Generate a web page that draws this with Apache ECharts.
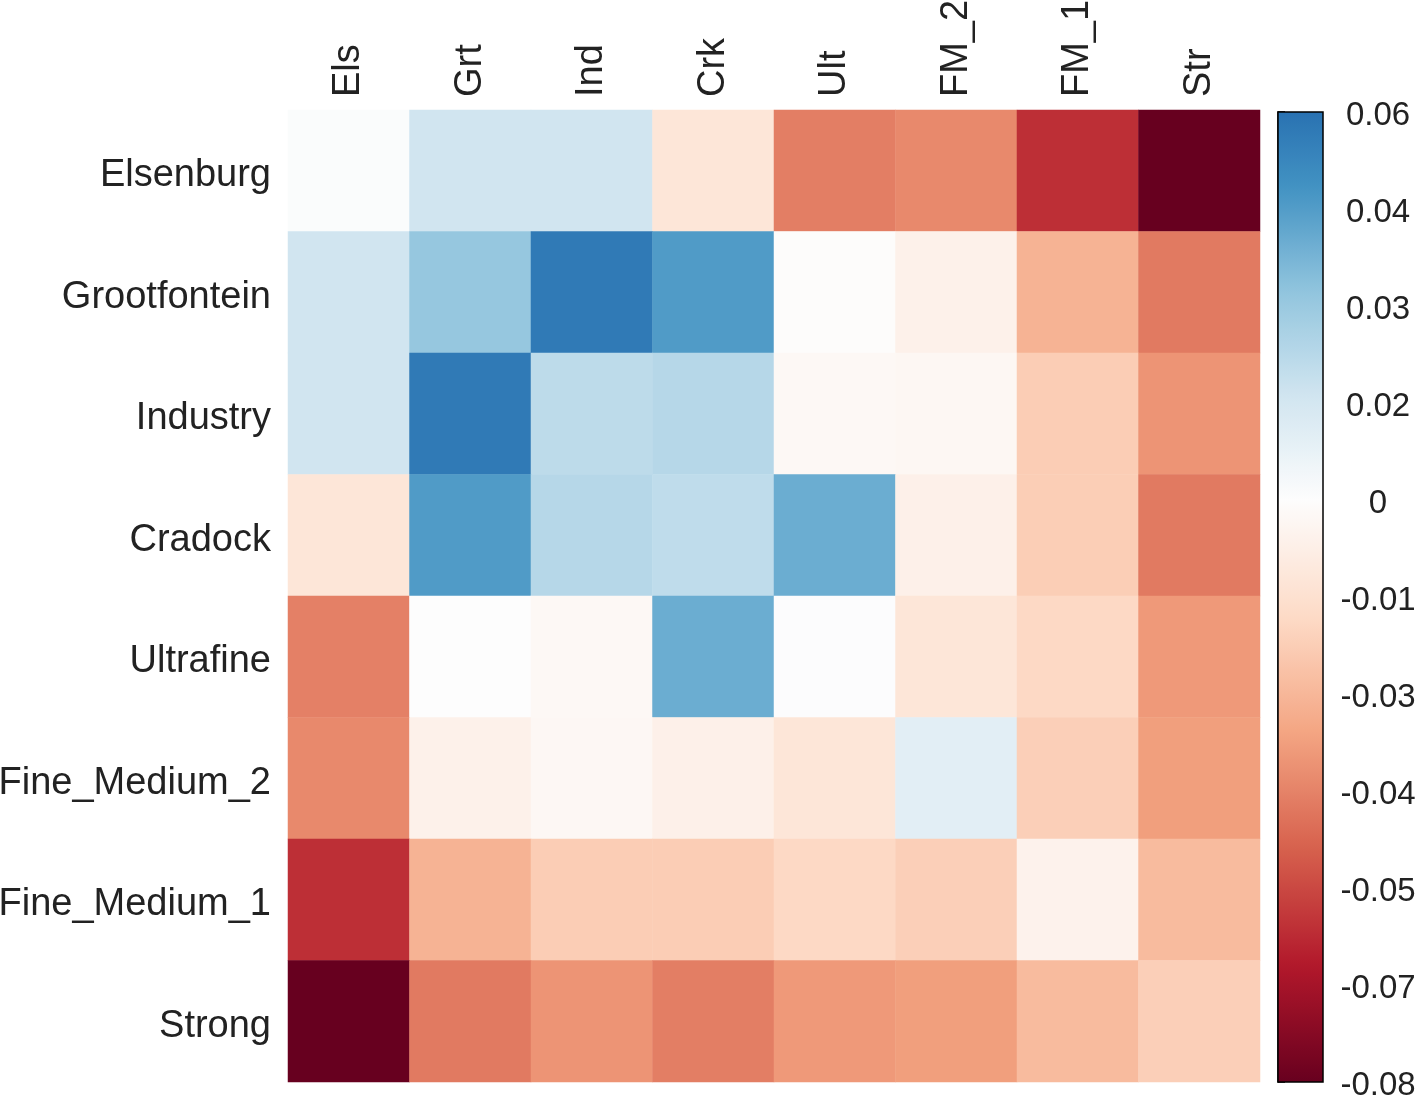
<!DOCTYPE html>
<html><head><meta charset="utf-8">
<script src="https://cdn.jsdelivr.net/npm/echarts@6/dist/echarts.min.js"></script>
<style>html,body{margin:0;padding:0;background:#fff}#c{width:1418px;height:1099px}</style>
</head><body><div id="c"></div>
<script>
// ---- data ----
const rowLabels = ['Elsenburg','Grootfontein','Industry','Cradock','Ultrafine','Fine_Medium_2','Fine_Medium_1','Strong'];
const colLabels = ['Els','Grt','Ind','Crk','Ult','FM_2','FM_1','Str'];
const rowElsenburg    = [ 0.001,  0.016,  0.016, -0.011, -0.041, -0.0385, -0.059, -0.080];
const rowGrootfontein = [ 0.016,  0.031,  0.057,  0.0454, -0.0005, -0.0057, -0.0278, -0.042];
const rowIndustry     = [ 0.016,  0.057,  0.021,  0.0228, -0.0025, -0.003, -0.0202, -0.036];
const rowCradock      = [-0.011,  0.0454, 0.0228, 0.0205, 0.0398, -0.006, -0.020, -0.042];
const rowUltrafine    = [-0.0405, 0.0000,-0.0025, 0.0398, 0.0005, -0.011, -0.0165, -0.0347];
const rowFineMedium2  = [-0.0385,-0.0057,-0.0028,-0.006, -0.011,  0.010, -0.0195, -0.0335];
const rowFineMedium1  = [-0.059, -0.0278,-0.0202,-0.0202,-0.0165,-0.0195,-0.005, -0.0255];
const rowStrong       = [-0.080, -0.042, -0.036, -0.041, -0.0347,-0.0335,-0.0255,-0.0195];
const colorbarTickLabels = ['-0.08','-0.07','-0.05','-0.04','-0.03','-0.01','0','0.02','0.03','0.04','0.06'];
const colorbarTickValues = [-0.08,-0.0667,-0.0533,-0.04,-0.0267,-0.0133,0,0.015,0.03,0.045,0.06];

// ---- colormap (RdBu, centred on 0) ----
const cmapColors = ['#67001f','#b2182b','#d6604d','#f4a582','#fddbc7','#fdfdfd','#d1e5f0','#92c5de','#4393c3','#2166ac','#053061'];
const cmapMin = -0.08, cmapMax = 0.08;
function hex2rgb(h){return [parseInt(h.slice(1,3),16),parseInt(h.slice(3,5),16),parseInt(h.slice(5,7),16)];}
function cmap(v){
  let t = (v - cmapMin)/(cmapMax - cmapMin);
  t = Math.max(0, Math.min(1, t)) * (cmapColors.length - 1);
  const i = Math.min(Math.floor(t), cmapColors.length - 2), f = t - i;
  const a = hex2rgb(cmapColors[i]), b = hex2rgb(cmapColors[i+1]);
  return 'rgb(' + a.map((x,k)=>Math.round(x + (b[k]-x)*f)).join(',') + ')';
}

const rows = [rowElsenburg,rowGrootfontein,rowIndustry,rowCradock,rowUltrafine,rowFineMedium2,rowFineMedium1,rowStrong];
const heatData = [];
rows.forEach((r, yi) => r.forEach((v, xi) => heatData.push([xi, yi, v])));

// colorbar gradient stops (top = offset 0)
const nT = colorbarTickValues.length - 1;
const stops = [];
for (let i = 0; i < nT; i++) {
  const sub = 8;
  for (let s = 0; s <= sub; s++) {
    const pos = (i + s/sub) / nT;
    const v = colorbarTickValues[i] + (colorbarTickValues[i+1]-colorbarTickValues[i]) * s/sub;
    stops.push({offset: 1 - pos, color: cmap(v)});
  }
}
stops.sort((a,b)=>a.offset-b.offset);

const FONT = 'Liberation Sans, Arial, sans-serif';
const chart = echarts.init(document.getElementById('c'), null, {renderer:'canvas'});
chart.setOption({
  animation: false,
  backgroundColor: '#ffffff',
  grid: [
    {left: 288, top: 110, width: 972, height: 972, containLabel:false, outerBoundsMode:'none'},
    {left: 1278, top: 112, width: 45, height: 970, containLabel:false, outerBoundsMode:'none'}
  ],
  xAxis: [
    {type:'category', data: colLabels, position:'top', gridIndex:0,
     axisLine:{show:false}, axisTick:{show:false}, splitLine:{show:false},
     axisLabel:{rotate:-90, fontSize:38, color:'#222', fontFamily:FONT, margin:13}},
    {type:'value', gridIndex:1, min:0, max:1, show:false}
  ],
  yAxis: [
    {type:'category', data: rowLabels, inverse:true, gridIndex:0,
     axisLine:{show:false}, axisTick:{show:false}, splitLine:{show:false},
     axisLabel:{color:'#222', margin:17,
       formatter: v => '{t|' + v + '}',
       rich:{t:{fontSize:38, color:'#222', fontFamily:FONT, padding:[10,0,0,0]}}}},
    {type:'value', gridIndex:1, min:0, max:nT, interval:1, position:'right',
     axisLine:{show:true, lineStyle:{color:'#000', width:1.5}},
     axisTick:{show:true, length:7, lineStyle:{color:'#000', width:1.5}},
     splitLine:{show:false},
     axisLabel:{color:'#222', margin:55, align:'center',
       formatter: v => '{t|' + colorbarTickLabels[Math.round(v)] + '}',
       rich:{t:{fontSize:33, color:'#222', fontFamily:FONT, padding:[8,0,0,0], align:'center'}}}}
  ],
  visualMap: {type:'continuous', show:false, min:cmapMin, max:cmapMax, dimension:2, seriesIndex:0,
    inRange:{color: cmapColors}},
  series: [
    {type:'heatmap', xAxisIndex:0, yAxisIndex:0, data: heatData, emphasis:{disabled:true},
     itemStyle:{borderWidth:0}},
    {type:'custom', xAxisIndex:1, yAxisIndex:1, silent:true,
     data: [[0, 0, nT]], encode:{x:0, y:[1,2]},
     renderItem: (params, api) => {
       const p0 = api.coord([0, api.value(1)]);
       const p1 = api.coord([1, api.value(2)]);
       return {type:'rect',
         shape:{x:p0[0], y:p1[1], width:p1[0]-p0[0], height:p0[1]-p1[1]},
         style:{fill:{type:'linear', x:0, y:0, x2:0, y2:1, colorStops: stops}, stroke:'#000', lineWidth:1.5}};
     }}
  ]
});
</script></body></html>
